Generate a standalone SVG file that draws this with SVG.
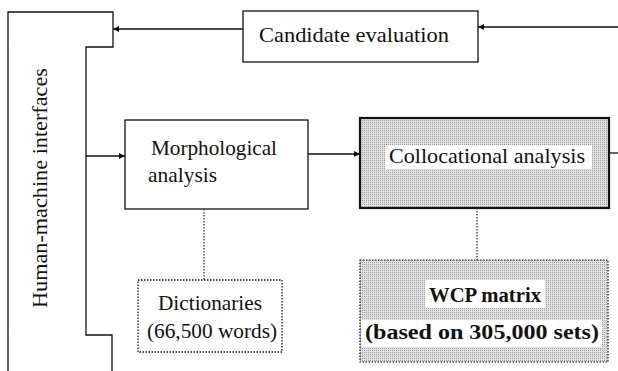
<svg xmlns="http://www.w3.org/2000/svg" width="618" height="371" viewBox="0 0 618 371">
  <defs>
    <pattern id="dots" width="2" height="2" patternUnits="userSpaceOnUse">
      <rect width="2" height="2" fill="#e2e2e2"/>
      <rect width="1" height="1" fill="#9c9c9c"/>
    </pattern>
    <marker id="arr" viewBox="0 0 10 10" refX="10" refY="5" markerWidth="7" markerHeight="6" orient="auto" markerUnits="userSpaceOnUse">
      <path d="M0,0 L10,5 L0,10 z" fill="#111"/>
    </marker>
  </defs>
  <style>
    text { font-family: "Liberation Serif", "DejaVu Serif", serif; font-size: 21px; fill: #111; }
    .bold { font-weight: bold; }
    .box { fill: #fff; stroke: #111; stroke-width: 1.3; }
    .shade { fill: url(#dots); stroke: #111; }
    .dotted { stroke-dasharray: 1.5 1.5; }
    .conn { fill: none; stroke: #111; stroke-width: 1.3; }
    .dot { fill: none; stroke: #222; stroke-width: 1.2; stroke-dasharray: 1.5 1.5; }
    .bg { fill: #fff; }
  </style>

  <g id="hmi">
    <path class="conn" d="M8,371 L8,12 L113,12 L113,47 L86,47 L86,335 L112,335 L112,371"/>
    <text transform="translate(47,308) rotate(-90)" textLength="240" lengthAdjust="spacingAndGlyphs">Human-machine interfaces</text>
  </g>

  <g id="candidate">
    <rect class="box" x="243" y="11" width="235" height="51"/>
    <text x="259" y="42" textLength="190" lengthAdjust="spacingAndGlyphs">Candidate evaluation</text>
  </g>

  <g id="morph">
    <rect class="box" x="125" y="120" width="183" height="89"/>
    <text x="151" y="155" textLength="126" lengthAdjust="spacingAndGlyphs">Morphological</text>
    <text x="148" y="182" textLength="69" lengthAdjust="spacingAndGlyphs">analysis</text>
  </g>

  <g id="colloc">
    <rect class="shade" x="360" y="118" width="249" height="90" stroke-width="2.2"/>
    <rect class="bg" x="385" y="145" width="207" height="24"/>
    <text x="389" y="163" textLength="196" lengthAdjust="spacingAndGlyphs">Collocational analysis</text>
  </g>

  <g id="dictionaries">
    <rect class="box dotted" x="138" y="280" width="144" height="72"/>
    <text x="210" y="310" text-anchor="middle" textLength="104" lengthAdjust="spacingAndGlyphs">Dictionaries</text>
    <text x="212" y="338" text-anchor="middle" textLength="130" lengthAdjust="spacingAndGlyphs">(66,500 words)</text>
  </g>

  <g id="wcp">
    <rect class="shade dotted" x="360" y="260" width="248" height="102" stroke-width="1.2"/>
    <rect class="bg" x="425" y="280" width="120" height="28"/>
    <text class="bold" x="485" y="302" text-anchor="middle" textLength="112" lengthAdjust="spacingAndGlyphs">WCP matrix</text>
    <rect class="bg" x="361" y="320" width="241" height="27"/>
    <text class="bold" x="482" y="339" text-anchor="middle" textLength="234" lengthAdjust="spacingAndGlyphs">(based on 305,000 sets)</text>
  </g>

  <g id="connectors">
    <line class="conn" x1="618" y1="27" x2="478" y2="27" marker-end="url(#arr)"/>
    <line class="conn" x1="243" y1="29" x2="113" y2="29" marker-end="url(#arr)"/>
    <line class="conn" x1="86" y1="156" x2="125" y2="156" marker-end="url(#arr)"/>
    <line class="conn" x1="308" y1="154" x2="360" y2="154" marker-end="url(#arr)"/>
    <line class="conn" x1="609" y1="153" x2="618" y2="153"/>
    <line class="dot" x1="204" y1="209" x2="204" y2="280"/>
    <line class="dot" x1="477" y1="208" x2="477" y2="260"/>
  </g>
</svg>
